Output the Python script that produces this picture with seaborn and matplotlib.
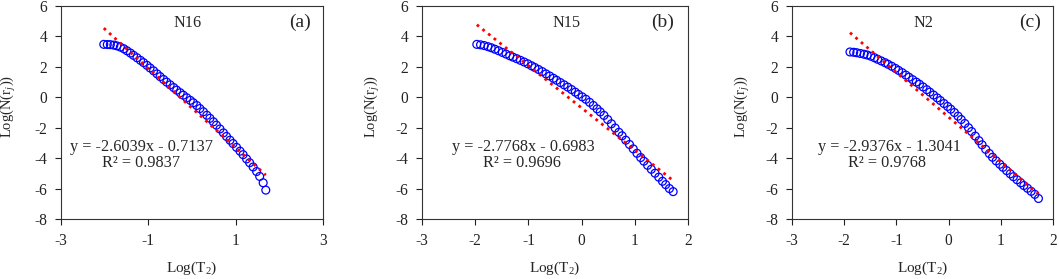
import numpy as np
import pandas as pd
import matplotlib
matplotlib.use("Agg")
import matplotlib.pyplot as plt
import seaborn as sns

sns.set_style("ticks")
plt.rcParams['font.family'] = ['Liberation Serif', 'DejaVu Serif']
plt.rcParams['mathtext.fontset'] = 'custom'
plt.rcParams['mathtext.rm'] = 'Liberation Serif'
plt.rcParams['mathtext.it'] = 'Liberation Serif:italic'
plt.rcParams['axes.unicode_minus'] = False

# ---- data ----
x_n16 = [-2.02, -1.94, -1.87, -1.79, -1.72, -1.64, -1.56, -1.49, -1.41, -1.34,
         -1.26, -1.18, -1.11, -1.03, -0.96, -0.88, -0.80, -0.73, -0.65, -0.58,
         -0.50, -0.42, -0.35, -0.27, -0.20, -0.12, -0.04, 0.03, 0.11, 0.18,
         0.26, 0.34, 0.41, 0.49, 0.56, 0.64, 0.72, 0.79, 0.87, 0.94,
         1.02, 1.10, 1.17, 1.25, 1.32, 1.40, 1.48, 1.55, 1.63, 1.69]
y_n16 = [3.48, 3.47, 3.46, 3.43, 3.38, 3.30, 3.19, 3.06, 2.91, 2.76,
         2.60, 2.43, 2.28, 2.10, 1.93, 1.74, 1.54, 1.36, 1.17, 1.00,
         0.82, 0.64, 0.47, 0.30, 0.14, -0.03, -0.20, -0.36, -0.54, -0.74,
         -0.95, -1.18, -1.38, -1.61, -1.83, -2.08, -2.34, -2.57, -2.82, -3.04,
         -3.29, -3.54, -3.77, -4.05, -4.30, -4.58, -4.88, -5.20, -5.62, -6.10]

x_n15 = [-1.97, -1.90, -1.83, -1.76, -1.70, -1.63, -1.56, -1.49, -1.42, -1.35,
         -1.29, -1.22, -1.15, -1.08, -1.01, -0.94, -0.88, -0.81, -0.74, -0.67,
         -0.60, -0.53, -0.47, -0.40, -0.33, -0.26, -0.19, -0.12, -0.06, 0.01,
         0.08, 0.15, 0.22, 0.29, 0.35, 0.42, 0.49, 0.56, 0.63, 0.70,
         0.76, 0.83, 0.90, 0.97, 1.04, 1.11, 1.17, 1.24, 1.31, 1.38,
         1.45, 1.52, 1.58, 1.65, 1.72]
y_n15 = [3.48, 3.45, 3.40, 3.33, 3.26, 3.16, 3.06, 2.95, 2.84, 2.73,
         2.64, 2.54, 2.43, 2.32, 2.20, 2.07, 1.96, 1.83, 1.69, 1.54,
         1.40, 1.25, 1.12, 0.97, 0.82, 0.67, 0.51, 0.34, 0.19, 0.03,
         -0.13, -0.33, -0.54, -0.76, -0.96, -1.19, -1.46, -1.74, -2.02, -2.30,
         -2.53, -2.82, -3.10, -3.39, -3.68, -3.96, -4.20, -4.47, -4.73, -4.99,
         -5.25, -5.52, -5.74, -6.00, -6.20]

x_n2 = [-1.89, -1.82, -1.76, -1.69, -1.62, -1.56, -1.49, -1.42, -1.36, -1.29,
        -1.22, -1.16, -1.09, -1.02, -0.96, -0.89, -0.82, -0.76, -0.69, -0.62,
        -0.56, -0.49, -0.42, -0.36, -0.29, -0.22, -0.16, -0.09, -0.02, 0.04,
        0.11, 0.18, 0.24, 0.31, 0.38, 0.44, 0.51, 0.58, 0.64, 0.71,
        0.78, 0.84, 0.91, 0.98, 1.04, 1.11, 1.18, 1.24, 1.31, 1.38,
        1.44, 1.51, 1.58, 1.65, 1.72]
y_n2 = [2.98, 2.96, 2.93, 2.88, 2.83, 2.78, 2.70, 2.60, 2.50, 2.39,
        2.28, 2.17, 2.04, 1.90, 1.77, 1.62, 1.46, 1.32, 1.16, 1.00,
        0.86, 0.68, 0.50, 0.34, 0.15, -0.04, -0.21, -0.41, -0.60, -0.78,
        -1.00, -1.24, -1.46, -1.72, -2.00, -2.25, -2.55, -2.85, -3.12, -3.42,
        -3.70, -3.94, -4.18, -4.40, -4.60, -4.82, -5.03, -5.22, -5.42, -5.62,
        -5.80, -5.98, -6.18, -6.38, -6.65]

samples = ["N16", "N15", "N2"]
tags = ["(a)", "(b)", "(c)"]
slopes = [-2.6039, -2.7768, -2.9376]
intercepts = [-0.7137, -0.6983, -1.3041]
r2 = ["0.9837", "0.9696", "0.9768"]
xlims = [(-3, 3), (-3, 2), (-3, 2)]
xticks = [[-3, -1, 1, 3], [-3, -2, -1, 0, 1, 2], [-3, -2, -1, 0, 1, 2]]

fig = plt.figure(figsize=(10.59, 2.79), dpi=100)
boxes = [[0.0576, 0.215, 0.2474, 0.7634],
         [0.3985, 0.215, 0.2512, 0.7634],
         [0.7479, 0.215, 0.2465, 0.7634]]
ylab_x = [-0.164, -0.150, -0.155]
# label positions (data coords)
name_x = [-0.1, -0.28, -0.48]
tag_x = [2.47, 1.53, 1.56]
eq_x = [-2.8, -2.44, -2.5]
r2_x = [-2.06, -1.85, -1.92]

xs = [x_n16, x_n15, x_n2]
ys = [y_n16, y_n15, y_n2]

for i in range(3):
    ax = fig.add_axes(boxes[i])
    df = pd.DataFrame({"x": xs[i], "y": ys[i]})
    xmin, xmax = min(xs[i]), max(xs[i])
    fit = pd.DataFrame({"x": [xmin, xmax],
                        "y": [slopes[i] * xmin + intercepts[i], slopes[i] * xmax + intercepts[i]]})
    sns.lineplot(data=fit, x="x", y="y", ax=ax, color="red", lw=2,
                 linestyle=(0, (1, 1.6)), zorder=3)
    sns.scatterplot(data=df, x="x", y="y", ax=ax, marker="o", s=32,
                    facecolor="none", edgecolor="#0000ff", linewidth=0.9, zorder=2)

    ax.set_xlim(*xlims[i])
    ax.set_ylim(-8, 6)
    ax.set_xticks(xticks[i])
    ax.set_yticks(range(-8, 7, 2))
    ax.tick_params(direction="out", length=4, width=0.8, labelsize=11.2,
                   colors="#222222", pad=6)
    for sp in ax.spines.values():
        sp.set_color("#333333")
        sp.set_linewidth(0.8)
    ax.set_xlabel("Log(T$_2$)", fontsize=11)
    ax.xaxis.set_label_coords(0.5, -0.19)
    ax.set_ylabel("Log(N(r$_j$))", fontsize=10.5)
    ax.yaxis.set_label_coords(ylab_x[i], 0.53)

    ax.text(name_x[i], 4.9, samples[i], ha="center", va="center", fontsize=11.7)
    ax.text(tag_x[i], 4.9, tags[i], ha="center", va="center", fontsize=14)
    ax.text(eq_x[i], -3.27, "y = %.4fx - %.4f" % (slopes[i], -intercepts[i]),
            ha="left", va="center", fontsize=11.7)
    ax.text(r2_x[i], -4.3, "R² = " + r2[i], ha="left", va="center", fontsize=11.7)

fig.savefig("out.png", dpi=100)
